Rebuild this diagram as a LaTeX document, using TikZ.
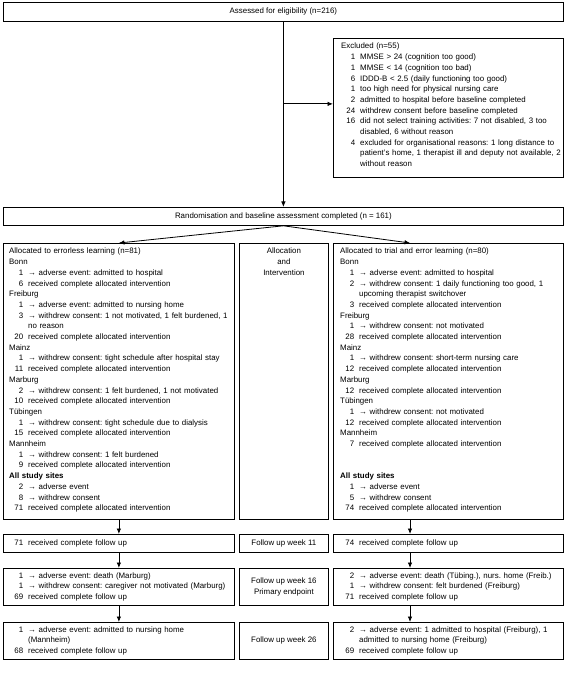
\documentclass[tikz,border=0pt]{standalone}
\usepackage{fontspec}
\setmainfont{Liberation Sans}
\usetikzlibrary{arrows.meta}
\frenchspacing
\newcommand{\rowitem}[2]{\makebox[14pt][r]{#1}\hspace{5pt}#2}
\newcommand{\rowcont}[1]{\hspace*{19pt}#1}
\newcommand{\fsz}{\fontsize{7.9}{10.7}\selectfont}
\begin{document}
\begin{tikzpicture}[x=1pt,y=-1pt,
  box/.style={draw, line width=0.8pt, inner sep=0pt, anchor=north west, font=\fsz, align=center},
  txt/.style={inner sep=0pt, text width=300pt, align=left, font=\fsz},
  ctxt/.style={inner sep=0pt, align=center, font=\fsz},
  arr/.style={line width=0.8pt, -{Latex[length=5.5pt,width=4.5pt]}}]
\useasboundingbox[fill=white] (0,0) rectangle (567,676);

% boxes
\node[box, minimum width=560pt, minimum height=19pt] (assess) at (3,2) {Assessed for eligibility (n=216)};
\node[box, minimum width=230pt, minimum height=139pt] (excl) at (333,38) {};
\node[box, minimum width=560pt, minimum height=18pt] (rand) at (3,207) {Randomisation and baseline assessment completed (n = 161)};

\node[box, minimum width=231pt, minimum height=276pt] (L) at (3,243) {};
\node[box, minimum width=89pt, minimum height=276pt] (M) at (239,243) {};
\node[box, minimum width=230pt, minimum height=276pt] (R) at (333,243) {};

\node[box, minimum width=231pt, minimum height=18pt] (L1) at (3,534) {};
\node[box, minimum width=89pt, minimum height=18pt] (M1) at (239,534) {Follow up week 11};
\node[box, minimum width=230pt, minimum height=18pt] (R1) at (333,534) {};

\node[box, minimum width=231pt, minimum height=37pt] (L2) at (3,568) {};
\node[box, minimum width=89pt, minimum height=37pt] (M2) at (239,568) {Follow up week 16\\Primary endpoint};
\node[box, minimum width=230pt, minimum height=37pt] (R2) at (333,568) {};

\node[box, minimum width=231pt, minimum height=37pt] (L3) at (3,622) {};
\node[box, minimum width=89pt, minimum height=37pt] (M3) at (239,622) {Follow up week 26};
\node[box, minimum width=230pt, minimum height=37pt] (R3) at (333,622) {};

% texts
\node[txt, anchor=north west] (excltxt) at ([shift={(8pt,-5pt)}]excl.north west) {%
Excluded (n=55)\\
\rowitem{1}{MMSE > 24 (cognition too good)}\\
\rowitem{1}{MMSE < 14 (cognition too bad)}\\
\rowitem{6}{IDDD-B < 2.5 (daily functioning too good)}\\
\rowitem{1}{too high need for physical nursing care}\\
\rowitem{2}{admitted to hospital before baseline completed}\\
\rowitem{24}{withdrew consent before baseline completed}\\
\rowitem{16}{did not select training activities: 7 not disabled, 3 too}\\
\rowcont{disabled, 6 without reason}\\
\rowitem{4}{excluded for organisational reasons: 1 long distance to}\\
\rowcont{patient's home, 1 therapist ill and deputy not available, 2}\\
\rowcont{without reason}};

\node[txt, anchor=north west] (Ltxt) at ([shift={(6pt,-5pt)}]L.north west) {%
Allocated to errorless learning (n=81)\\
Bonn\\
\rowitem{1}{→ adverse event: admitted to hospital}\\
\rowitem{6}{received complete allocated intervention}\\
Freiburg\\
\rowitem{1}{→ adverse event: admitted to nursing home}\\
\rowitem{3}{→ withdrew consent: 1 not motivated, 1 felt burdened, 1}\\
\rowcont{no reason}\\
\rowitem{20}{received complete allocated intervention}\\
Mainz\\
\rowitem{1}{→ withdrew consent: tight schedule after hospital stay}\\
\rowitem{11}{received complete allocated intervention}\\
Marburg\\
\rowitem{2}{→ withdrew consent: 1 felt burdened, 1 not motivated}\\
\rowitem{10}{received complete allocated intervention}\\
Tübingen\\
\rowitem{1}{→ withdrew consent: tight schedule due to dialysis}\\
\rowitem{15}{received complete allocated intervention}\\
Mannheim\\
\rowitem{1}{→ withdrew consent: 1 felt burdened}\\
\rowitem{9}{received complete allocated intervention}\\
\textbf{All study sites}\\
\rowitem{2}{→ adverse event}\\
\rowitem{8}{→ withdrew consent}\\
\rowitem{71}{received complete allocated intervention}};

\node[ctxt, anchor=north] (Mtxt) at ([yshift=-5pt]M.north) {Allocation\\and\\Intervention};

\node[txt, anchor=north west] (Rtxt) at ([shift={(7pt,-5pt)}]R.north west) {%
Allocated to trial and error learning (n=80)\\
Bonn\\
\rowitem{1}{→ adverse event: admitted to hospital}\\
\rowitem{2}{→ withdrew consent: 1 daily functioning too good, 1}\\
\rowcont{upcoming therapist switchover}\\
\rowitem{3}{received complete allocated intervention}\\
Freiburg\\
\rowitem{1}{→ withdrew consent: not motivated}\\
\rowitem{28}{received complete allocated intervention}\\
Mainz\\
\rowitem{1}{→ withdrew consent: short-term nursing care}\\
\rowitem{12}{received complete allocated intervention}\\
Marburg\\
\rowitem{12}{received complete allocated intervention}\\
Tübingen\\
\rowitem{1}{→ withdrew consent: not motivated}\\
\rowitem{12}{received complete allocated intervention}\\
Mannheim\\
\rowitem{7}{received complete allocated intervention}\\
\mbox{}\\
\mbox{}\\
\textbf{All study sites}\\
\rowitem{1}{→ adverse event}\\
\rowitem{5}{→ withdrew consent}\\
\rowitem{74}{received complete allocated intervention}};

\node[txt, anchor=west] (L1t) at ([xshift=6pt]L1.west) {\rowitem{71}{received complete follow up}};
\node[txt, anchor=west] (R1t) at ([xshift=7pt]R1.west) {\rowitem{74}{received complete follow up}};

\node[txt, anchor=west] (L2t) at ([xshift=6pt]L2.west) {%
\rowitem{1}{→ adverse event: death (Marburg)}\\
\rowitem{1}{→ withdrew consent: caregiver not motivated (Marburg)}\\
\rowitem{69}{received complete follow up}};
\node[txt, anchor=west] (R2t) at ([xshift=7pt]R2.west) {%
\rowitem{2}{→ adverse event: death (Tübing.), nurs. home (Freib.)}\\
\rowitem{1}{→ withdrew consent: felt burdened (Freiburg)}\\
\rowitem{71}{received complete follow up}};

\node[txt, anchor=west] (L3t) at ([xshift=6pt]L3.west) {%
\rowitem{1}{→ adverse event: admitted to nursing home}\\
\rowcont{(Mannheim)}\\
\rowitem{68}{received complete follow up}};
\node[txt, anchor=west] (R3t) at ([xshift=7pt]R3.west) {%
\rowitem{2}{→ adverse event: 1 admitted to hospital (Freiburg), 1}\\
\rowcont{admitted to nursing home (Freiburg)}\\
\rowitem{69}{received complete follow up}};

% connectors
\coordinate (ex) at ([yshift=4pt]excl.west);
\coordinate (Rcol) at ([xshift=77pt]R.north west);
\draw[arr] (assess.south) -- (rand.north);
\draw[arr] (assess.south |- ex) -- (ex);
\draw[arr] (rand.south) -- (L.north);
\draw[arr] (rand.south) -- (Rcol);
\draw[arr] (L.south) -- (L1.north);
\draw[arr] (L1.south) -- (L2.north);
\draw[arr] (L2.south) -- (L3.north);
\draw[arr] (Rcol |- R.south) -- (Rcol |- R1.north);
\draw[arr] (Rcol |- R1.south) -- (Rcol |- R2.north);
\draw[arr] (Rcol |- R2.south) -- (Rcol |- R3.north);
\end{tikzpicture}
\end{document}
